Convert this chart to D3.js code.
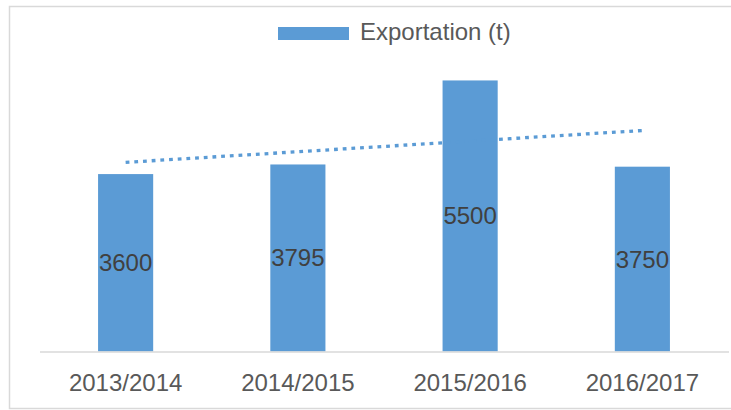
<!DOCTYPE html>
<html>
<head>
<meta charset="utf-8">
<script src="https://cdn.jsdelivr.net/npm/d3@7"></script>
<style>
  html, body { margin: 0; padding: 0; background: #fff; }
  svg { display: block; }
  text { font-family: "Liberation Sans", Arial, sans-serif; }
</style>
</head>
<body>
<svg id="chart" width="731" height="410"></svg>
<script>
const categories = ["2013/2014", "2014/2015", "2015/2016", "2016/2017"];
const values = [3600, 3795, 5500, 3750];
const seriesName = "Exportation (t)";
const yDomain = [0, 6000];

const W = 731, H = 410;
const barColor = "#5b9bd5";
const svg = d3.select("#chart");

// outer chart border
svg.append("rect")
  .attr("x", 9.5).attr("y", 6.5)
  .attr("width", 740).attr("height", 402)
  .attr("fill", "none").attr("stroke", "#d9d9d9").attr("stroke-width", 1.5);

const plot = { left: 39.5, right: 728.5, top: 55.8, bottom: 351.5 };

const x = d3.scaleBand()
  .domain(categories)
  .range([plot.left, plot.right])
  .paddingInner(0.68)
  .paddingOuter(0.34);

const y = d3.scaleLinear().domain(yDomain).range([plot.bottom, plot.top]);

// bars
svg.append("g").selectAll("rect")
  .data(values)
  .join("rect")
  .attr("x", (d, i) => x(categories[i]))
  .attr("y", d => y(d))
  .attr("width", x.bandwidth())
  .attr("height", d => y(0) - y(d))
  .attr("fill", barColor);

// x axis
const xAxis = svg.append("g")
  .attr("transform", `translate(0,${plot.bottom})`)
  .call(d3.axisBottom(x).tickSize(0).tickPadding(0));
xAxis.select(".domain").attr("stroke", "#d9d9d9").attr("stroke-width", 1.5);
xAxis.selectAll("text")
  .attr("y", 39.5).attr("dy", null)
  .attr("fill", "#595959")
  .style("font-size", "24px")
  .style("font-family", "'Liberation Sans', Arial, sans-serif");

// linear trendline (least squares over category index)
const n = values.length;
const xs = values.map((d, i) => i + 1);
const mx = d3.mean(xs), my = d3.mean(values);
const slope = d3.sum(xs.map((xi, i) => (xi - mx) * (values[i] - my))) /
              d3.sum(xs.map(xi => (xi - mx) ** 2));
const icpt = my - slope * mx;
const trend = [1, n].map(k => ({ c: categories[k - 1], v: icpt + slope * k }));
svg.append("path")
  .datum(trend)
  .attr("d", d3.line().x(d => x(d.c) + x.bandwidth() / 2).y(d => y(d.v)))
  .attr("fill", "none")
  .attr("stroke", barColor)
  .attr("stroke-width", 3.3)
  .attr("stroke-dasharray", "3.8,4.9");

// data labels
svg.append("g").selectAll("text")
  .data(values)
  .join("text")
  .attr("x", (d, i) => x(categories[i]) + x.bandwidth() / 2)
  .attr("y", d => (y(d) + y(0)) / 2 + 8.5)
  .attr("text-anchor", "middle")
  .attr("fill", "#404040")
  .style("font-size", "24px")
  .text(d => d);

// legend
const lg = svg.append("g");
lg.append("rect")
  .attr("x", 278).attr("y", 27)
  .attr("width", 71).attr("height", 13)
  .attr("fill", barColor);
lg.append("text")
  .attr("x", 360).attr("y", 40)
  .attr("fill", "#595959")
  .style("font-size", "24px")
  .text(seriesName);
</script>
</body>
</html>
